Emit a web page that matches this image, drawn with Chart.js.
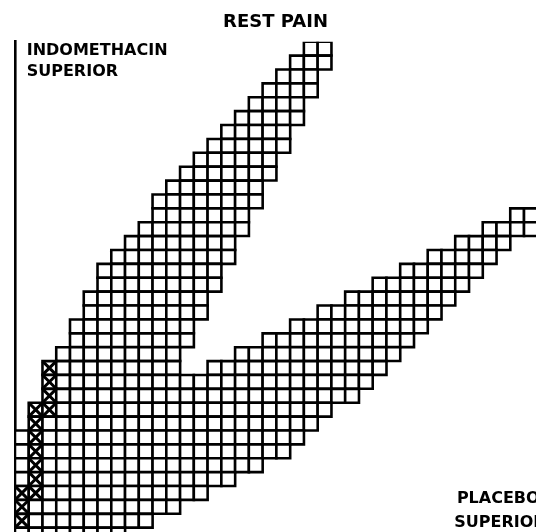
<!DOCTYPE html>
<html>
<head>
<meta charset="utf-8">
<script src="https://cdn.jsdelivr.net/npm/chart.js@4.4.0/dist/chart.umd.min.js"></script>
<style>
  html, body { margin: 0; padding: 0; background: #fff; }
  #wrap { width: 536px; height: 532px; }
</style>
</head>
<body>
<div id="wrap"><canvas id="plan"></canvas></div>
<script>
// ---------------------------------------------------------
// Sequential plan.
// Rows are counted from the top (row 0), columns from the axis (col 0).
// ---------------------------------------------------------
const rows = [
  0, 1, 2, 3, 4, 5, 6, 7, 8, 9, 10, 11, 12, 13, 14, 15, 16, 17,
  18, 19, 20, 21, 22, 23, 24, 25, 26, 27, 28, 29, 30, 31, 32, 33, 34, 35,
];

// first shaded column of every row (edge of "indomethacin superior")
const rowStart = [
  21, 20, 19, 18, 17, 16, 15, 14, 13, 12, 11, 10, 10, 9, 8, 7, 6, 6,
  5, 5, 4, 4, 3, 2, 2, 2, 1, 1, 0, 0, 0, 0, 0, 0, 0, 0,
];

// last column of the upper band, rows 0-23
const upperEnd = [
  22, 22, 21, 21, 20, 20, 19, 19, 18, 18, 17, 17,
  16, 16, 15, 15, 14, 14, 13, 13, 12, 12, 11, 11,
];

// first column of the lower band, rows 12-23 (edge of the open wedge)
const lowerStart = [36, 34, 32, 30, 28, 26, 24, 22, 20, 18, 16, 14];

// last shaded column, rows 12-35 (edge of "placebo superior")
const lowerEnd = [
  37, 37, 35, 34, 33, 32, 31, 30, 29, 28, 27, 26,
  25, 24, 22, 21, 20, 19, 17, 15, 13, 11, 9, 7,
];

// path of the trial (crossed squares)
const pathCol = [0, 0, 0, 1, 1, 1, 1, 1, 1, 1, 2, 2, 2, 2];
const pathRow = [34, 33, 32, 32, 31, 30, 29, 28, 27, 26, 26, 25, 24, 23];

const titleText = "REST PAIN";
const notes = [
  { text: "INDOMETHACIN", col: 0.35, row: 0.46 },
  { text: "SUPERIOR", col: 0.35, row: 1.97 },
  { text: "PLACEBO", col: 31.62, row: 32.74 },
  { text: "SUPERIOR", col: 31.43, row: 34.43 },
];

// ---------------------------------------------------------
// Build the squares from the row edges
// ---------------------------------------------------------
const cells = [];
function addRun(r, from, to) {
  for (let c = from; c <= to; c++) cells.push({ x: c, y: r });
}
rows.forEach((r) => {
  if (r < 12) {
    addRun(r, rowStart[r], upperEnd[r]);
  } else if (r < 24) {
    addRun(r, rowStart[r], upperEnd[r]);
    addRun(r, lowerStart[r - 12], lowerEnd[r - 12]);
  } else {
    addRun(r, rowStart[r], lowerEnd[r - 12]);
  }
});

const path = pathCol.map((c, i) => ({ x: c, y: pathRow[i] }));

// square size follows the scales
function cellRadius(ctx) {
  const { x, y } = ctx.chart.scales;
  const w = Math.abs(x.getPixelForValue(1) - x.getPixelForValue(0));
  const h = Math.abs(y.getPixelForValue(1) - y.getPixelForValue(0));
  return (w + h) / 2 / Math.SQRT2;
}

// ---------------------------------------------------------
// Text in the corners
// ---------------------------------------------------------
const notesPlugin = {
  id: "notes",
  afterDraw(chart) {
    const { ctx, scales } = chart;
    ctx.save();
    ctx.fillStyle = "#000";
    ctx.font = "bold 16px 'DejaVu Sans'";
    ctx.textAlign = "left";
    ctx.textBaseline = "alphabetic";
    notes.forEach((n) => {
      ctx.fillText(n.text, scales.x.getPixelForValue(n.col), scales.y.getPixelForValue(n.row));
    });
    ctx.restore();
  },
};

new Chart(document.getElementById("plan"), {
  type: "scatter",
  data: {
    datasets: [
      {
        label: "path",
        data: path,
        order: 0,
        pointStyle: "crossRot",
        radius: cellRadius,
        hoverRadius: cellRadius,
        borderColor: "#000",
        borderWidth: 3,
        hoverBorderWidth: 3,
      },
      {
        label: "plan",
        data: cells,
        order: 1,
        pointStyle: "rect",
        radius: cellRadius,
        hoverRadius: cellRadius,
        backgroundColor: "#fff",
        borderColor: "#000",
        borderWidth: 2.6,
        hoverBorderWidth: 2.6,
      },
    ],
  },
  options: {
    responsive: true,
    maintainAspectRatio: false,
    animation: false,
    events: [],
    layout: { padding: { left: 15, right: 0, top: 0, bottom: 0 } },
    plugins: {
      legend: { display: false },
      tooltip: { enabled: false },
      title: {
        display: true,
        text: titleText,
        color: "#000",
        font: { family: "'DejaVu Sans'", size: 18, weight: "bold", lineHeight: 1.2 },
        padding: { top: 12, bottom: 8.1 },
      },
    },
    scales: {
      x: {
        type: "linear",
        min: -0.5,
        max: 37.37,
        display: false,
      },
      y: {
        type: "linear",
        reverse: true,
        min: -0.5,
        max: 34.81,
        ticks: { display: false },
        grid: { display: false, drawTicks: false },
        border: { display: true, color: "#000", width: 2.6 },
      },
    },
  },
  plugins: [notesPlugin],
});
</script>
</body>
</html>
